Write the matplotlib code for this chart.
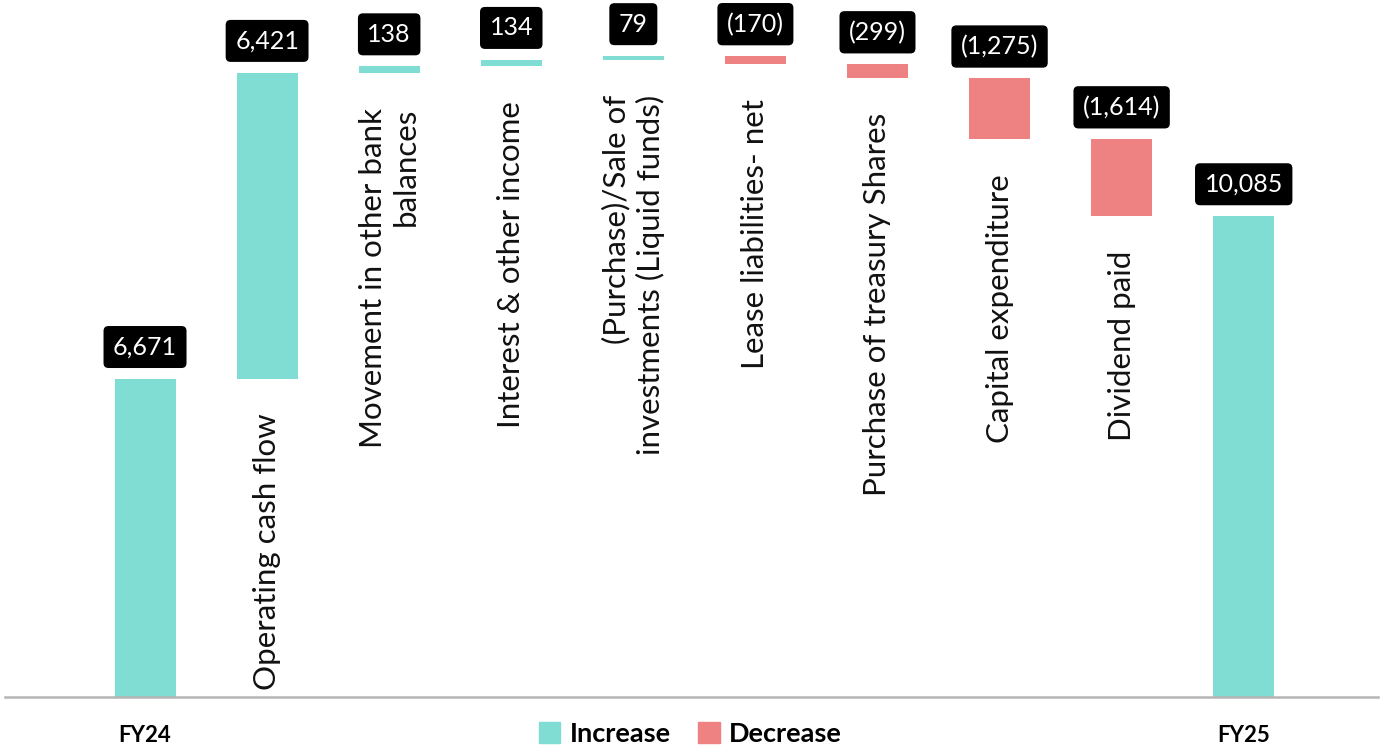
import matplotlib.pyplot as plt
from matplotlib.patches import Patch
import numpy as np

plt.rcParams['font.family'] = ['Lato', 'DejaVu Sans']

categories = ['FY24', 'Operating cash flow', 'Movement in other bank\nbalances',
              'Interest & other income', '(Purchase)/Sale of\ninvestments (Liquid funds)',
              'Lease liabilities- net', 'Purchase of treasury Shares',
              'Capital expenditure', 'Dividend paid', 'FY25']
values = [6671, 6421, 138, 134, 79, -170, -299, -1275, -1614, 10085]
value_labels = ['6,671', '6,421', '138', '134', '79', '(170)', '(299)',
                '(1,275)', '(1,614)', '10,085']
is_total = [True, False, False, False, False, False, False, False, False, True]

inc_color = '#80DDD4'
dec_color = '#EE8181'

# waterfall bottoms / heights
bottoms = []
heights = []
running = 0
for v, tot in zip(values, is_total):
    if tot:
        bottoms.append(0)
        heights.append(v)
        running = v
    elif v >= 0:
        bottoms.append(running)
        heights.append(v)
        running += v
    else:
        bottoms.append(running + v)
        heights.append(-v)
        running += v
bottoms = np.array(bottoms)
heights = np.array(heights)
colors = [inc_color if v >= 0 else dec_color for v in values]

fig = plt.figure(figsize=(13.89, 7.49), dpi=100)
ax = fig.add_axes([5 / 1389, 52 / 749, 1373 / 1389, 697 / 749])
x = np.arange(len(categories))
ax.bar(x, heights, bottom=bottoms, width=0.5, color=colors)

ax.set_xlim(-1.147, 10.10)
ax.set_ylim(0, 14620)

for i in range(len(categories)):
    top = bottoms[i] + heights[i]
    ax.annotate(value_labels[i], (x[i], top), xytext=(0, 23), textcoords='offset points',
                ha='center', va='center', color='white', fontsize=18,
                bbox=dict(boxstyle='round,pad=0.38,rounding_size=0.2', fc='black', ec='none'))
    if not is_total[i]:
        ax.annotate(categories[i], (x[i], bottoms[i]), xytext=(0, -25), textcoords='offset points',
                    ha='center', va='top', rotation=90, multialignment='right',
                    fontsize=22.5, color='#111111')

ax.set_xticks([0, 9])
ax.set_xticklabels(['FY24', 'FY25'], fontsize=16, fontweight='bold')
ax.tick_params(axis='x', length=0, pad=20)
ax.set_yticks([])
for s in ['top', 'left', 'right']:
    ax.spines[s].set_visible(False)
ax.spines['bottom'].set_color('#B5B5B5')
ax.spines['bottom'].set_linewidth(1.8)

handles = [Patch(color=inc_color, label='Increase'), Patch(color=dec_color, label='Decrease')]
fig.legend(handles=handles, loc='center', bbox_to_anchor=(0.497, 0.02), ncol=2, frameon=False,
           prop={'weight': 'bold', 'size': 19.5}, handlelength=0.8, handleheight=0.8,
           handletextpad=0.35, columnspacing=1.0)

fig.savefig('out.png', dpi=100)
